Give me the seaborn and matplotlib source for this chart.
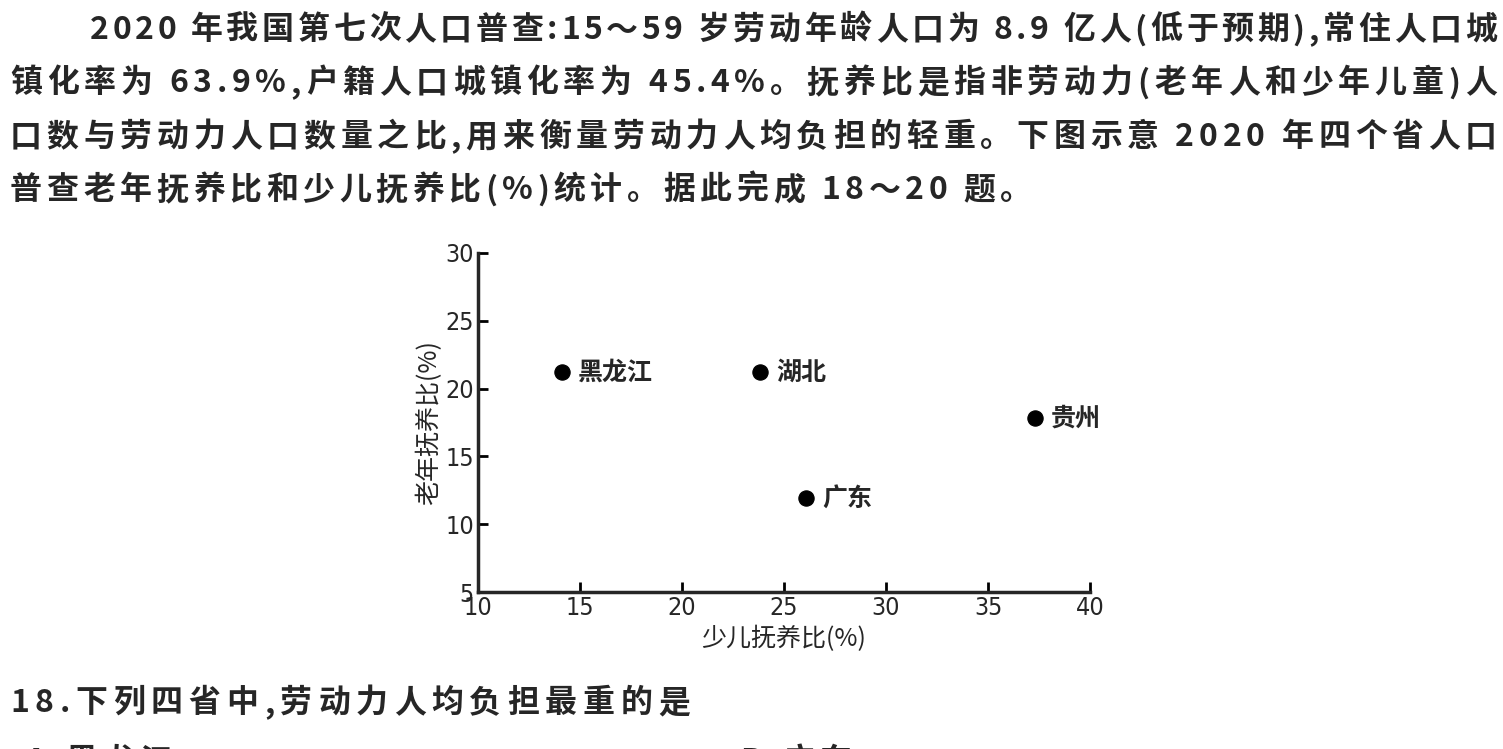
import matplotlib
matplotlib.use("Agg")
import matplotlib.pyplot as plt
import seaborn as sns
import pandas as pd

# 数据
provinces = ["黑龙江", "湖北", "贵州", "广东"]
child_ratio = [14.1, 23.8, 37.3, 26.1]
old_ratio = [21.2, 21.2, 17.8, 11.9]

x_ticks = [10, 15, 20, 25, 30, 35, 40]
y_ticks = [5, 10, 15, 20, 25, 30]

intro_lines = [
    "2020 年我国第七次人口普查:15～59 岁劳动年龄人口为 8.9 亿人(低于预期),常住人口城",
    "镇化率为 63.9%,户籍人口城镇化率为 45.4%。抚养比是指非劳动力(老年人和少年儿童)人",
    "口数与劳动力人口数量之比,用来衡量劳动力人均负担的轻重。下图示意 2020 年四个省人口",
    "普查老年抚养比和少儿抚养比(%)统计。据此完成 18～20 题。",
]
question = "18.下列四省中,劳动力人均负担最重的是"
options = ["A.黑龙江", "B.广东"]

df = pd.DataFrame({"省份": provinces, "少儿抚养比": child_ratio, "老年抚养比": old_ratio})

sns.set_style("ticks")
plt.rcParams["font.family"] = ["Noto Sans CJK SC", "DejaVu Sans"]

W, H = 1503, 749
fig = plt.figure(figsize=(W / 100, H / 100), dpi=100)
ax = fig.add_axes([478 / W, 1 - 592 / H, 612 / W, 339 / H])

sns.scatterplot(data=df, x="少儿抚养比", y="老年抚养比", color="black", s=120,
                edgecolor="black", ax=ax, zorder=3)
for _, r in df.iterrows():
    ax.text(r["少儿抚养比"] + 0.8, r["老年抚养比"], r["省份"], fontsize=18,
            fontweight="bold", va="center", ha="left")

ax.set_xlim(10, 40)
ax.set_ylim(5, 30)
ax.set_xticks(x_ticks)
ax.set_yticks(y_ticks)
ax.tick_params(direction="in", length=7, width=2, labelsize=18, color="black", pad=3)
for lab in ax.get_xticklabels() + ax.get_yticklabels():
    lab.set_family("DejaVu Sans")
    lab.set_fontstretch("condensed")
ax.spines["top"].set_visible(False)
ax.spines["right"].set_visible(False)
for sp in ["left", "bottom"]:
    ax.spines[sp].set_linewidth(2.5)
ax.set_xlabel("少儿抚养比(%)", fontsize=18, labelpad=4)
ax.set_ylabel("老年抚养比(%)", fontsize=18, labelpad=2)

# 题干文字：逐字排版，两端对齐
renderer = fig.canvas.get_renderer()


def char_widths(s, size):
    ws = []
    for ch in s:
        t = fig.text(0, 0, ch, fontsize=size, fontweight="bold")
        ws.append(t.get_window_extent(renderer).width)
        t.remove()
    return ws


def put_line(s, x0, y, size, gap=None, x1=None):
    ws = char_widths(s, size)
    if x1 is not None:
        gap = (x1 - x0 - sum(ws)) / (len(s) - 1)
    x = x0
    for ch, w in zip(s, ws):
        fig.text(x / W, 1 - y / H, ch, fontsize=size, fontweight="bold", va="center")
        x += w + gap
    return gap


fs = 23
for line, x0, y in zip(intro_lines[:3], [90, 10, 10], [30, 83, 137]):
    put_line(line, x0, y, fs, x1=1497)
put_line(intro_lines[3], 10, 190, fs, x1=1032)
put_line(question, 10, 703, fs, x1=690)
put_line(options[0], 25, 762, fs, gap=5.0)
put_line(options[1], 740, 762, fs, gap=5.0)

fig.savefig("out.png", dpi=100)
